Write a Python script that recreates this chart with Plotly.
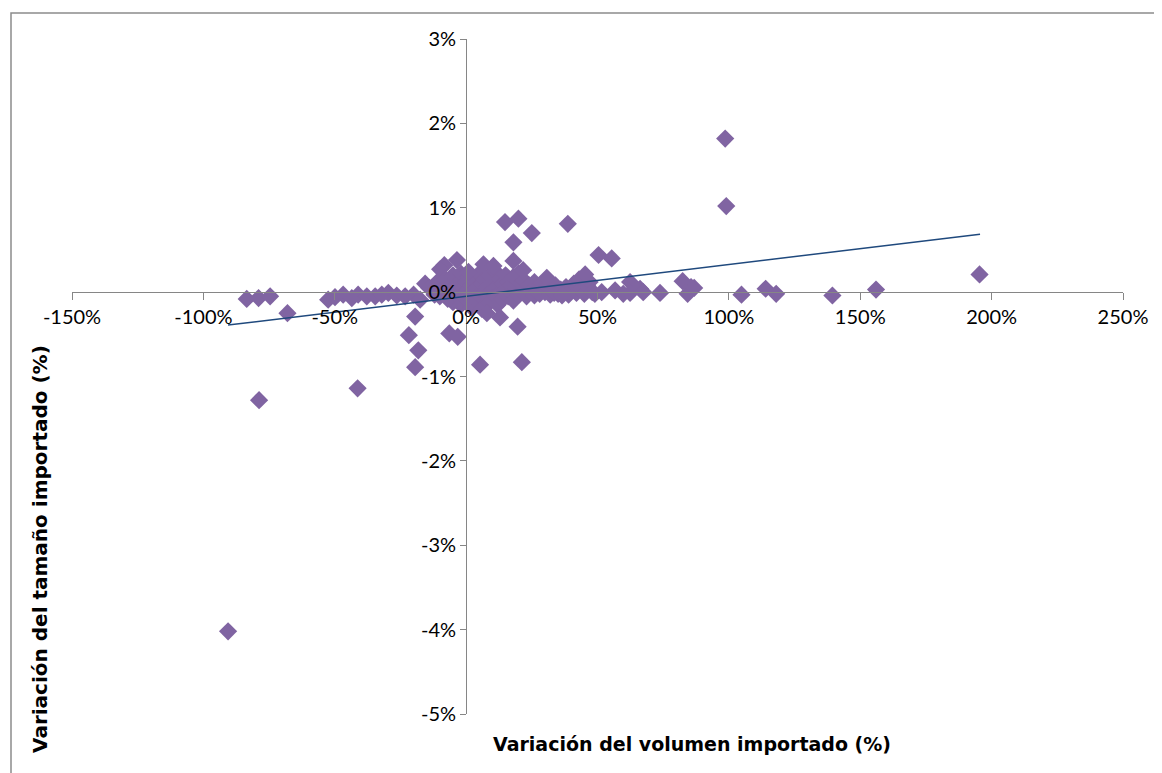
import plotly.graph_objects as go

# Variación del volumen importado (%) vs Variación del tamaño importado (%)
vol_x = [
    -90.6, -83.5, -79.0, -74.6, -68.0, -78.8, -41.3,
    -52.5, -49.9, -46.8, -43.5, -41.1, -37.8, -34.6, -32.1, -29.6, -26.4, -23.2, -20.0,
    -15.6, -17.5, -19.4, -21.8, -18.2, -19.4, -8.3, -3.5, -6.4, -3.2, -9.9,
    -14.0, -12.0, -11.0, -10.0, -9.0, -8.0, -7.0, -6.0, -5.0, -5.0, -4.0, -3.0, -3.0,
    -2.0, -2.0, -1.0, -1.0, 0.0, 0.0, 0.5,
    1.0, 1.0, 2.0, 2.0, 3.0, 3.0, 4.0, 4.0, 5.0, 5.0, 6.0, 6.0, 7.0, 7.0, 8.0, 8.0,
    9.0, 9.0, 10.0, 10.0, 11.0, 11.0, 12.0, 12.0, 13.0, 13.0, 14.0, 14.0, 15.0, 15.0,
    16.0, 16.0, 17.0, 17.0, 18.0, 18.0, 19.0, 20.0, 20.0, 21.0, 22.0, 22.0, 23.0, 24.0,
    25.0, 26.0, 26.0, 27.0, 28.0, 29.0, 30.0, 31.0, 32.0, 33.0, 34.0, 35.0, 36.0, 37.0,
    38.0, 39.0, 40.0, 41.0, 42.0, 43.0, 44.0, 45.0, 46.0, 47.0, 48.0, 49.0, 33.5, 36.5,
    14.8, 19.9, 25.0, 18.0, 38.7, 18.0, 6.6, 10.4, 0.9, 21.7, 30.7, 45.3, 50.4, 55.4,
    19.6, 5.3, 21.2, 12.9, 7.9,
    62.4, 51.6, 56.7, 59.8, 62.4, 66.2, 67.4, 73.8, 82.4, 85.6, 84.3, 86.8,
    98.6, 99.0, 104.8, 114.0, 118.0, 139.4, 156.0, 195.4,
]
tam_y = [
    -4.02, -0.08, -0.07, -0.05, -0.25, -1.28, -1.14,
    -0.09, -0.06, -0.03, -0.07, -0.03, -0.05, -0.05, -0.03, -0.01, -0.04, -0.05, -0.03,
    0.10, -0.09, -0.29, -0.51, -0.69, -0.89, 0.32, 0.38, -0.49, -0.53, 0.27,
    0.05, -0.03, 0.12, -0.05, 0.02, 0.15, -0.08, 0.08, 0.20, -0.12, 0.00, 0.10, -0.05,
    0.22, -0.15, 0.05, -0.02, 0.12, -0.08, 0.02,
    0.18, -0.05, 0.08, -0.18, 0.02, 0.14, -0.10, 0.05, 0.22, -0.03, 0.10, -0.20, 0.00, 0.15,
    -0.07, 0.06, 0.20, -0.12, 0.02, 0.12, -0.04, 0.25, 0.07, -0.15, 0.00, 0.16, -0.08, 0.10,
    0.03, 0.20, -0.05, 0.12, 0.00, 0.08, -0.10, 0.18, 0.04, 0.22, -0.03, 0.10, 0.00, 0.14,
    -0.05, 0.08, 0.02, 0.12, -0.04, 0.05, -0.02, 0.10, 0.00, 0.06, -0.03, 0.04, 0.08, -0.02,
    0.03, 0.00, 0.06, -0.03, 0.02, 0.10, -0.01, 0.15, 0.04, -0.02, 0.08, 0.12, 0.00, -0.02,
    -0.01, -0.04,
    0.83, 0.87, 0.70, 0.59, 0.81, 0.37, 0.33, 0.31, 0.24, 0.26, 0.17, 0.21, 0.44, 0.40,
    -0.41, -0.86, -0.83, -0.30, -0.25,
    0.12, 0.00, 0.02, -0.02, -0.01, 0.04, 0.00, -0.01, 0.13, 0.06, -0.02, 0.05,
    1.82, 1.02, -0.03, 0.04, -0.02, -0.04, 0.03, 0.21,
]

# Linear trend line (endpoints as drawn)
trend_x = [-90.6, 195.6]
trend_y = [-0.39, 0.687]

x_ticks = [-150, -100, -50, 0, 50, 100, 150, 200, 250]
y_ticks = [-5, -4, -3, -2, -1, 0, 1, 2, 3]

FONT = "Lato"
TITLE_FONT = "DejaVu Sans"
AXIS_GRAY = "#868686"

# page body has an 8px offset; plot area target: x 72..1123, y 39..714 (screen)
OFF = 8
W, H = 1162 - OFF, 773 - OFF
L, T = 72 - OFF, 39 - OFF
R = W - (1123 - OFF)
B = H - (714 - OFF)

fig = go.Figure()
fig.add_trace(go.Scatter(
    x=vol_x, y=tam_y, mode="markers",
    marker=dict(symbol="diamond", size=14, color="#8064A2", line=dict(width=0)),
    showlegend=False, hoverinfo="x+y",
))
fig.add_trace(go.Scatter(
    x=trend_x, y=trend_y, mode="lines",
    line=dict(color="#1F497D", width=1.5),
    showlegend=False, hoverinfo="skip",
))

fig.update_layout(
    width=W, height=H,
    margin=dict(l=L, r=R, t=T, b=B),
    paper_bgcolor="white", plot_bgcolor="white",
    font=dict(family=FONT, size=20, color="black"),
    xaxis=dict(
        range=[-150, 250], tickvals=x_ticks, ticktext=[f"{v}%" for v in x_ticks],
        showgrid=False, zeroline=False, showline=True, linecolor=AXIS_GRAY, linewidth=1,
        ticks="outside", ticklen=7, tickcolor=AXIS_GRAY, tickwidth=1,
        anchor="free", position=0.625, side="bottom",
    ),
    yaxis=dict(
        range=[-5, 3], tickvals=y_ticks, ticktext=[f"{v}%" for v in y_ticks],
        showgrid=False, zeroline=False, showline=True, linecolor=AXIS_GRAY, linewidth=1,
        ticks="outside", ticklen=6, tickcolor=AXIS_GRAY, tickwidth=1,
        anchor="free", position=0.375, side="left",
    ),
    shapes=[dict(type="rect", xref="paper", yref="paper",
                 x0=(11 - 72) / 1051, x1=(1180 - 72) / 1051,
                 y0=(714 - 790) / 675, y1=(714 - 13) / 675,
                 line=dict(color="#8C8C8C", width=1.5), layer="below")],
    annotations=[
        dict(text="<b>Variación del volumen importado (%)</b>", xref="paper", yref="paper",
             x=(692 - 72) / 1051, y=(714 - 744) / 675, showarrow=False,
             xanchor="center", yanchor="middle", font=dict(family=TITLE_FONT, size=19)),
        dict(text="<b>Variación del tamaño importado (%)</b>", xref="paper", yref="paper",
             x=(40 - 72) / 1051, y=(714 - 549) / 675, showarrow=False, textangle=-90,
             xanchor="center", yanchor="middle", font=dict(family=TITLE_FONT, size=20)),
    ],
)

fig.write_html("out.html")
